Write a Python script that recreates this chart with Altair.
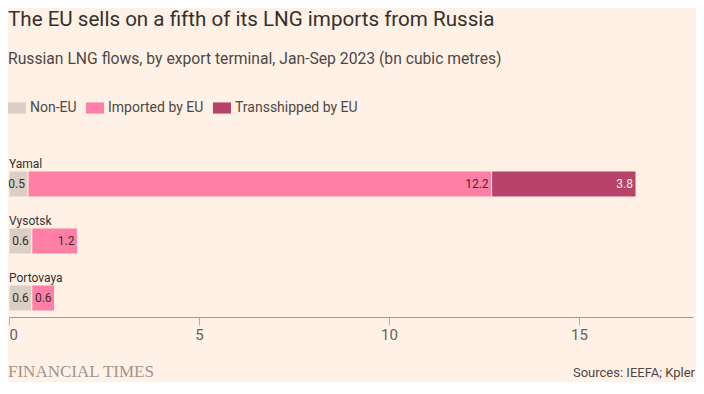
import altair as alt
import pandas as pd

terminals = ["Yamal", "Vysotsk", "Portovaya"]
categories = ["Non-EU", "Imported by EU", "Transshipped by EU"]
non_eu = [0.5, 0.6, 0.6]
imported = [12.2, 1.2, 0.6]
transshipped = [3.8, None, None]
colors = ["#dbcec4", "#ff7fa6", "#b8426a"]

title = "The EU sells on a fifth of its LNG imports from Russia"
subtitle = "Russian LNG flows, by export terminal, Jan-Sep 2023 (bn cubic metres)"
source = "Sources: IEEFA; Kpler"
brand = "FINANCIAL TIMES"

rows = []
for i, t in enumerate(terminals):
    for j, (c, series) in enumerate(zip(categories, [non_eu, imported, transshipped])):
        v = series[i]
        if v is not None:
            rows.append({"terminal": t, "category": c, "value": v, "order": j})
df = pd.DataFrame(rows)

FONT = "Roboto"
BG = "#fff1e5"
W, H = 684, 152

y_enc = alt.Y("terminal:N", sort=terminals, axis=None,
              scale=alt.Scale(paddingInner=0.544, paddingOuter=0.105))

base = alt.Chart(df)

bars = base.mark_bar(stroke=BG, strokeWidth=1).encode(
    x=alt.X("value:Q", stack="zero",
            scale=alt.Scale(domain=[0, 18], nice=False),
            axis=alt.Axis(values=[0, 5, 10, 15], grid=False, domain=True,
                          domainColor="#a39a93", tickColor="#b7aea7", tickSize=8,
                          labelFontSize=15, labelColor="#66605c", labelFont=FONT,
                          labelPadding=2, title=None)),
    y=y_enc,
    color=alt.Color("category:N", sort=categories,
                    scale=alt.Scale(domain=categories, range=colors),
                    legend=alt.Legend(orient="none", legendX=-1, legendY=-66,
                                      direction="horizontal", title=None,
                                      symbolType="M-1,-0.62H1V0.62H-1Z",
                                      symbolSize=324, symbolStrokeWidth=0,
                                      symbolOpacity=1,
                                      labelFont=FONT, labelFontSize=14,
                                      labelColor="#4d4845", labelOffset=4,
                                      columnPadding=9)),
    order=alt.Order("order:Q"),
)

labels = base.transform_window(
    cum="sum(value)", groupby=["terminal"], sort=[alt.SortField("order")]
).mark_text(align="right", baseline="middle", dx=-3, font=FONT, fontSize=12).encode(
    x=alt.X("cum:Q"),
    y=y_enc,
    text=alt.Text("value:Q", format=".1f"),
    color=alt.condition(alt.datum.category == "Transshipped by EU",
                        alt.value("#fff1e5"), alt.value("#33302e")),
)

names = alt.Chart(pd.DataFrame({"terminal": terminals})).mark_text(
    align="left", baseline="alphabetic", dy=-16, font=FONT, fontSize=12,
    color="#33302e").encode(
    x=alt.value(0), y=y_enc, text="terminal:N")

def txt(s, x, y, **kw):
    return alt.Chart(pd.DataFrame({"t": [s]})).mark_text(baseline="alphabetic", **kw).encode(
        text="t:N", x=alt.value(x), y=alt.value(y))

t_title = txt(title, -1, -139, align="left", font=FONT, fontSize=20.6, color="#33302e")
t_sub = txt(subtitle, -1, -101, align="left", font=FONT, fontSize=15.7, color="#4d4845")
t_brand = txt(brand, -1, 212, align="left", font="Liberation Serif", fontSize=17, color="#9e958e")
t_src = txt(source, 686, 212, align="right", font=FONT, fontSize=13, color="#4d4845")

chart = alt.layer(bars, labels, names, t_title, t_sub, t_brand, t_src).properties(
    width=W, height=H, background=BG,
    padding={"left": 1, "top": 157, "right": 3, "bottom": 65},
    autosize=alt.AutoSizeParams(type="none"),
).configure_view(stroke=None)

chart.save("out.html", embed_options={"renderer": "svg", "actions": False})
